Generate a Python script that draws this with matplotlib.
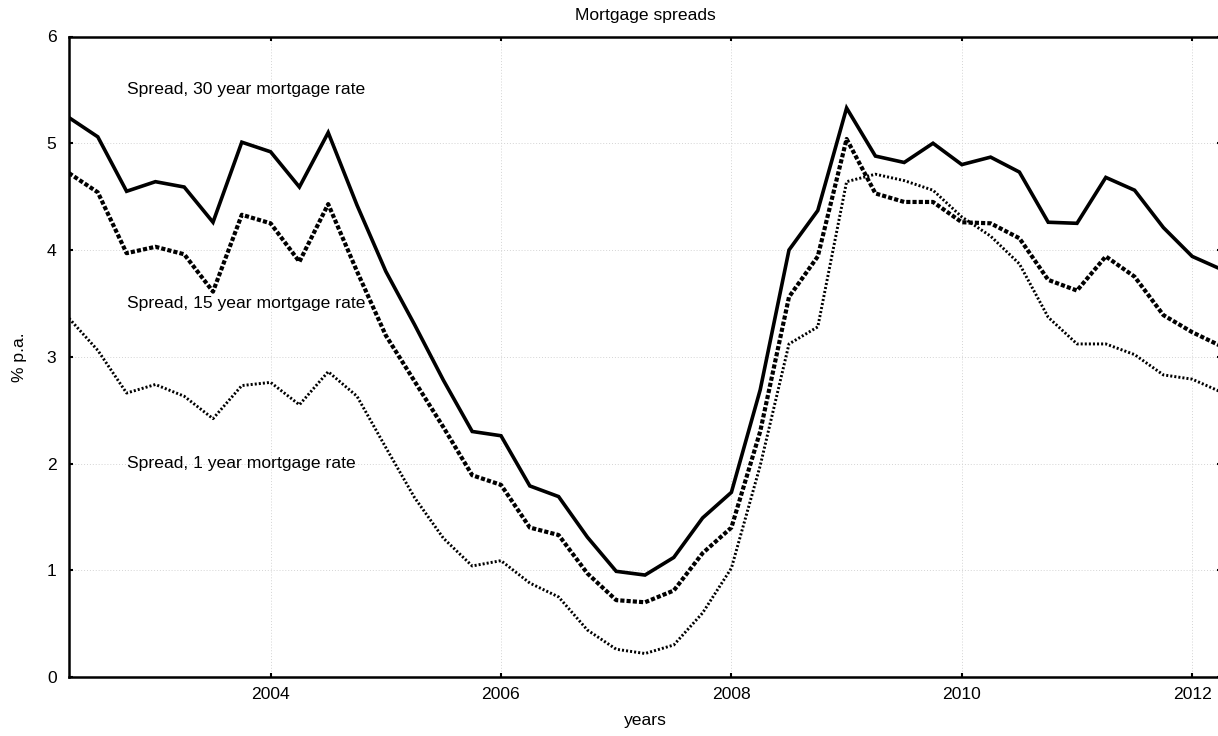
import numpy as np
import matplotlib
matplotlib.use("Agg")
import matplotlib.pyplot as plt

plt.rcParams['font.family'] = ['Liberation Sans', 'DejaVu Sans']

# quarterly observations, 2002Q2 .. 2012Q2
years = np.arange(41) * 0.25 + 2002.25

spread_30y = [5.24, 5.06, 4.55, 4.64, 4.59, 4.26, 5.01, 4.92, 4.59, 5.10,
              4.42, 3.80, 3.30, 2.78, 2.30, 2.26, 1.79, 1.69, 1.31, 0.99,
              0.955, 1.12, 1.49, 1.73, 2.69, 4.00, 4.37, 5.33, 4.88, 4.82,
              5.00, 4.80, 4.87, 4.73, 4.26, 4.25, 4.68, 4.56, 4.21, 3.94,
              3.82]
spread_15y = [4.72, 4.54, 3.97, 4.03, 3.96, 3.61, 4.33, 4.25, 3.89, 4.43,
              3.80, 3.20, 2.77, 2.34, 1.89, 1.80, 1.40, 1.33, 0.97, 0.72,
              0.70, 0.81, 1.16, 1.40, 2.30, 3.56, 3.94, 5.04, 4.53, 4.45,
              4.45, 4.26, 4.25, 4.11, 3.72, 3.62, 3.94, 3.75, 3.39, 3.23,
              3.10]
spread_1y = [3.36, 3.06, 2.66, 2.74, 2.63, 2.42, 2.73, 2.76, 2.55, 2.86,
             2.63, 2.15, 1.68, 1.30, 1.04, 1.09, 0.88, 0.75, 0.44, 0.26,
             0.22, 0.30, 0.60, 1.02, 1.98, 3.12, 3.28, 4.64, 4.71, 4.65,
             4.56, 4.31, 4.13, 3.87, 3.37, 3.12, 3.12, 3.02, 2.83, 2.79,
             2.67]

labels = ["Spread, 30 year mortgage rate",
          "Spread, 15 year mortgage rate",
          "Spread, 1 year mortgage rate"]
label_y = [5.5, 3.5, 2.0]

fs = 12.6

fig = plt.figure(figsize=(12.18, 7.36), dpi=100)
# axes runs slightly past the right edge of the figure, like the original
ax = fig.add_axes([69 / 1218, 1 - 677 / 736, 1152 / 1218, 640.5 / 736])

ax.plot(years, spread_30y, color='black', lw=2.6, solid_joinstyle='miter')
ax.plot(years, spread_15y, color='black', lw=3.0, linestyle=(0, (1.0, 0.5)))
ax.plot(years, spread_1y, color='black', lw=2.1, linestyle=(0, (0.7, 0.7)))

for txt, y in zip(labels, label_y):
    ax.text(2002.75, y, txt, fontsize=fs, va='center', ha='left')

ax.set_xlim(2002.25, 2012.25)
ax.set_ylim(0, 6)
ax.set_xticks([2004, 2006, 2008, 2010, 2012])
ax.set_yticks([0, 1, 2, 3, 4, 5, 6])

ax.grid(True, color='#d4d4d4', linestyle=(0, (1, 2)), lw=0.7)
for s in ax.spines.values():
    s.set_linewidth(1.8)
ax.tick_params(direction='in', length=3, width=1.5, top=True, right=True,
               labelsize=fs)
ax.tick_params(axis='x', pad=7)
ax.tick_params(axis='y', pad=9)

ax.set_title("Mortgage spreads", fontsize=fs, pad=12)
ax.set_xlabel("years", fontsize=fs, labelpad=8)
ax.set_ylabel("% p.a.", fontsize=fs, labelpad=14)

fig.savefig("out.png", dpi=100)
